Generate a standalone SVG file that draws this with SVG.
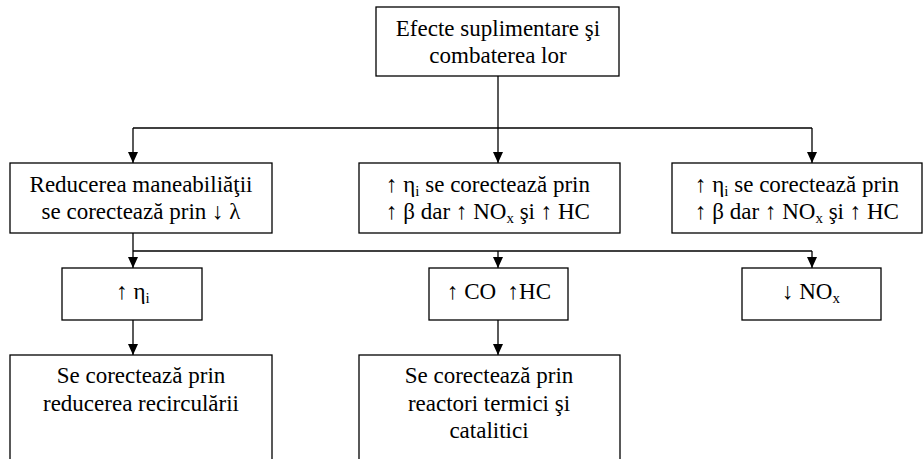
<svg xmlns="http://www.w3.org/2000/svg" width="924" height="459" viewBox="0 0 924 459">
<defs>
<style>
.box{fill:#fff;stroke:#000;stroke-width:1.3}
.ln{fill:none;stroke:#000;stroke-width:1.3}
.head{fill:#000;stroke:none}
.t{font-family:'Liberation Serif','Times New Roman',serif;font-size:23px;fill:#000;text-anchor:middle}
.sub{font-size:15px}
</style>
</defs>
<rect width="924" height="459" fill="#fff"/>
<g id="connectors">
<path class="ln" d="M498,76 V163"/>
<path class="ln" d="M133,128 H812"/>
<path class="ln" d="M133,128 V163"/>
<path class="ln" d="M812,128 V163"/>
<path class="ln" d="M133,233 V268"/>
<path class="ln" d="M133,251 H812"/>
<path class="ln" d="M498,251 V268"/>
<path class="ln" d="M812,251 V268"/>
<path class="ln" d="M133,320 V355"/>
<path class="ln" d="M498,320 V355"/>
<path class="head" d="M128,152 H138 L133,163 Z"/>
<path class="head" d="M493,152 H503 L498,163 Z"/>
<path class="head" d="M807,152 H817 L812,163 Z"/>
<path class="head" d="M128,257 H138 L133,268 Z"/>
<path class="head" d="M493,257 H503 L498,268 Z"/>
<path class="head" d="M807,257 H817 L812,268 Z"/>
<path class="head" d="M128,344 H138 L133,355 Z"/>
<path class="head" d="M493,344 H503 L498,355 Z"/>
</g>
<g id="n_top">
<rect class="box" x="376" y="7" width="243" height="69"/>
<text class="t" x="498" y="36">Efecte suplimentare şi</text>
<text class="t" x="498" y="63">combaterea lor</text>
</g>
<g id="n_reducere">
<rect class="box" x="10" y="163" width="262" height="70"/>
<text class="t" x="141" y="192">Reducerea maneabiliăţii</text>
<text class="t" x="141" y="219">se corectează prin ↓ λ</text>
</g>
<g id="n_eta_mid">
<rect class="box" x="359" y="163" width="261" height="70"/>
<text class="t" x="488" y="192">↑ η<tspan class="sub" dy="4">i</tspan><tspan dy="-4"> se corectează prin</tspan></text>
<text class="t" x="488" y="219">↑ β dar ↑ NO<tspan class="sub" dy="4">x</tspan><tspan dy="-4"> şi ↑ HC</tspan></text>
</g>
<g id="n_eta_right">
<rect class="box" x="672" y="163" width="250" height="70"/>
<text class="t" x="797" y="192">↑ η<tspan class="sub" dy="4">i</tspan><tspan dy="-4"> se corectează prin</tspan></text>
<text class="t" x="797" y="219">↑ β dar ↑ NO<tspan class="sub" dy="4">x</tspan><tspan dy="-4"> şi ↑ HC</tspan></text>
</g>
<g id="n_eta">
<rect class="box" x="62" y="268" width="140" height="52"/>
<text class="t" x="133" y="299">↑ η<tspan class="sub" dy="4">i</tspan></text>
</g>
<g id="n_co">
<rect class="box" x="429" y="268" width="139" height="52"/>
<text class="t" x="499" y="299" xml:space="preserve">↑ CO  ↑HC</text>
</g>
<g id="n_nox">
<rect class="box" x="742" y="268" width="139" height="52"/>
<text class="t" x="811" y="299">↓ NO<tspan class="sub" dy="4">x</tspan></text>
</g>
<g id="n_recirc">
<rect class="box" x="10" y="355" width="262" height="120"/>
<text class="t" x="141" y="383">Se corectează prin</text>
<text class="t" x="141" y="411">reducerea recirculării</text>
</g>
<g id="n_reactori">
<rect class="box" x="359" y="355" width="261" height="120"/>
<text class="t" x="489" y="383">Se corectează prin</text>
<text class="t" x="489" y="411">reactori termici şi</text>
<text class="t" x="489" y="438">catalitici</text>
</g>
</svg>
